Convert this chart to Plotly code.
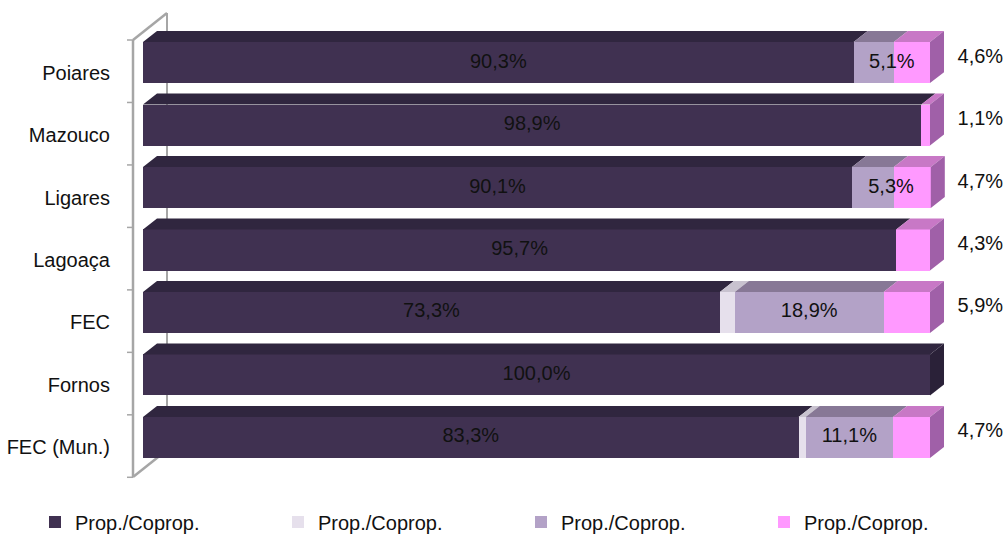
import plotly.graph_objects as go

# ---- data (top to bottom in the picture) ----
categories = ["Poiares", "Mazouco", "Ligares", "Lagoaça", "FEC", "Fornos", "FEC (Mun.)"]
series_names = ["Prop./Coprop.", "Prop./Coprop.", "Prop./Coprop.", "Prop./Coprop."]
s1 = [90.3, 98.9, 90.1, 95.7, 73.3, 100.0, 83.3]
s2 = [0.0, 0.0, 0.0, 0.0, 1.9, 0.0, 0.9]
s3 = [5.1, 0.0, 5.3, 0.0, 18.9, 0.0, 11.1]
s4 = [4.6, 1.1, 4.7, 4.3, 5.9, 0.0, 4.7]

# ---- styling ----
front_colors = ["#403151", "#e6e0ec", "#b3a2c7", "#ff99ff"]
top_colors = ["#30263f", "#c8c2cf", "#877896", "#c878c6"]
side_colors = ["#2a2138", "#bdb7c4", "#7d6e8c", "#a060a8"]
FONT = "Liberation Sans, Arial, sans-serif"
TXT = "#111111"

n = len(categories)
ypos = [n - 1 - k for k in range(n)]  # Poiares at top
W = 0.657   # bar thickness (category units)
DX = 1.78   # 3D depth, x (percent units)
DY = 0.176  # 3D depth, y (category units)

# plot geometry (pixels)
L, R, T, B = 143, 1000, 22, 478
PW, PH = R - L, B - T
XMAX = 100 * PW / 787.0
def px(x):
    return (x - L) / PW
def py(y):
    return (B - y) / PH

def fmt(v):
    return f"{v:.1f}".replace(".", ",") + "%"

series = [s1, s2, s3, s4]
fig = go.Figure()

# front faces
legend_ids = ["legend", "legend2", "legend3", "legend4"]
for si, vals in enumerate(series):
    fig.add_trace(go.Bar(
        y=ypos, x=vals, orientation="h", width=W,
        marker=dict(color=front_colors[si], line=dict(width=0)),
        name=series_names[si], showlegend=True, hoverinfo="skip",
        legend=legend_ids[si],
    ))

# top faces (one trace per series) and side face at the end of each bar
for si, vals in enumerate(series):
    xs, ys = [], []
    for k in range(n):
        c0 = sum(series[j][k] for j in range(si))
        c1 = c0 + vals[k]
        if vals[k] <= 0:
            continue
        t = ypos[k] + W / 2
        xs += [c0, c1, c1 + DX, c0 + DX, c0, None]
        ys += [t, t, t + DY, t + DY, t, None]
    fig.add_trace(go.Scatter(x=xs, y=ys, fill="toself", mode="none",
                             fillcolor=top_colors[si], showlegend=False, hoverinfo="skip"))

for si in range(4):
    xs, ys = [], []
    for k in range(n):
        last = max(j for j in range(4) if series[j][k] > 0)
        if last != si:
            continue
        C = sum(series[j][k] for j in range(4))
        t = ypos[k] + W / 2
        b = ypos[k] - W / 2
        xs += [C, C + DX, C + DX, C, C, None]
        ys += [t, t + DY, b + DY, b, t, None]
    if xs:
        fig.add_trace(go.Scatter(x=xs, y=ys, fill="toself", mode="none",
                                 fillcolor=side_colors[si], showlegend=False, hoverinfo="skip"))

# data labels
lab_font = dict(family=FONT, size=20, color=TXT)
fig.add_trace(go.Scatter(
    x=[v / 2 for v in s1], y=ypos, mode="text", text=[fmt(v) for v in s1],
    textfont=lab_font, showlegend=False, hoverinfo="skip", cliponaxis=False))
l3x, l3y, l3t = [], [], []
for k in range(n):
    if s3[k] > 0:
        c = s1[k] + s2[k] + s3[k] / 2
        if s3[k] < 8:  # narrow segment: label nudged right as in the original
            c += 2.3
        l3x.append(c)
        l3y.append(ypos[k])
        l3t.append(fmt(s3[k]))
fig.add_trace(go.Scatter(x=l3x, y=l3y, mode="text", text=l3t, textfont=lab_font,
                         showlegend=False, hoverinfo="skip", cliponaxis=False))
l4x, l4y, l4t = [], [], []
for k in range(n):
    if s4[k] > 0:
        l4x.append(106.4)
        l4y.append(ypos[k] + 0.08)
        l4t.append(fmt(s4[k]))
fig.add_trace(go.Scatter(x=l4x, y=l4y, mode="text", text=l4t, textfont=lab_font,
                         showlegend=False, hoverinfo="skip", cliponaxis=False))

# wall / axis decoration (paper coordinates)
GRAY = "#a6a6a6"
shapes = [
    dict(type="line", xref="paper", yref="paper", x0=px(167), x1=px(167),
         y0=py(450), y1=py(13), line=dict(color=GRAY, width=2), layer="below"),
    dict(type="line", xref="paper", yref="paper", x0=px(133), x1=px(167),
         y0=py(40), y1=py(13), line=dict(color=GRAY, width=2.5), layer="below"),
    dict(type="line", xref="paper", yref="paper", x0=px(133), x1=px(167),
         y0=py(477), y1=py(450), line=dict(color=GRAY, width=2.5), layer="below"),
    dict(type="line", xref="paper", yref="paper", x0=px(133), x1=px(133),
         y0=py(477), y1=py(40), line=dict(color=GRAY, width=2.5)),
]
for k in range(n + 1):
    yy = 40 + k * 62.47
    shapes.append(dict(type="line", xref="paper", yref="paper", x0=px(127), x1=px(133),
                       y0=py(yy), y1=py(yy), line=dict(color=GRAY, width=1.5)))

leg_common = dict(orientation="h", xanchor="left", yanchor="middle", y=py(522),
                  font=dict(family=FONT, size=20, color=TXT), bgcolor="rgba(0,0,0,0)",
                  itemwidth=30)
legend_lefts = [35, 278, 521, 764]

fig.update_layout(
    barmode="stack",
    width=1007, height=535,
    margin=dict(l=L, r=1007 - R, t=T, b=535 - B, autoexpand=False),
    paper_bgcolor="white", plot_bgcolor="white",
    font=dict(family=FONT, size=20, color=TXT),
    shapes=shapes,
    xaxis=dict(range=[0, XMAX], visible=False, fixedrange=True),
    yaxis=dict(range=[-0.65, 6.65], tickmode="array",
               tickvals=[p - 0.16 for p in ypos], ticktext=categories,
               showgrid=False, zeroline=False, showline=False, ticks="",
               automargin=False, ticklabelstandoff=32,
               tickfont=dict(family=FONT, size=20, color=TXT)),
    legend=dict(x=px(legend_lefts[0]), **leg_common),
    legend2=dict(x=px(legend_lefts[1]), **leg_common),
    legend3=dict(x=px(legend_lefts[2]), **leg_common),
    legend4=dict(x=px(legend_lefts[3]), **leg_common),
    showlegend=True,
)

fig.write_html("out.html", config={"displayModeBar": False},
               post_script="document.body.style.margin='0';document.body.style.overflow='hidden';")
